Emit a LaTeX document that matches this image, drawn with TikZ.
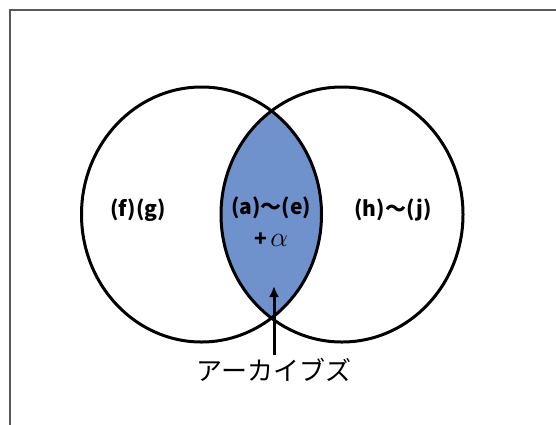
\documentclass[tikz,border=0pt]{standalone}
\usepackage{amsmath,amssymb}
\usepackage{fontspec}
\setmainfont{Noto Sans CJK JP}
\usetikzlibrary{arrows.meta, positioning}
\definecolor{lensblue}{RGB}{112,146,204}

\begin{document}
\begin{tikzpicture}[x=1pt, y=-1pt,
    setline/.style={line width=3pt},
    setlabel/.style={font=\fontsize{21}{24}\selectfont\bfseries},
    pointer/.style={line width=3pt, -{Latex[length=11pt,width=10pt]}}]

    \useasboundingbox (0,0) rectangle (556,424);

    % Frame (runs off the right and bottom edges)
    \draw[line width=1.4pt, black!65] (10,10) rectangle (570,440);

    % Shaded overlap of the two sets
    \begin{scope}
        \clip (201.5,214.5) ellipse [x radius=120pt, y radius=127.5pt];
        \fill[lensblue] (342,214.5) ellipse [x radius=121pt, y radius=127.5pt];
    \end{scope}

    % Left and right set outlines
    \draw[setline] (201.5,214.5) ellipse [x radius=120pt, y radius=127.5pt];
    \draw[setline] (342,214.5) ellipse [x radius=121pt, y radius=127.5pt];

    % Set labels
    \node[setlabel] (leftset) at (138,210) {(f)(g)};
    \node[setlabel] (common) at (271,208) {(a)〜(e)};
    \node[setlabel] (extra) at (271,240) {+\,\scalebox{1.35}{$\alpha$}};
    \node[setlabel] (rightset) at (393,210) {(h)〜(j)};

    % Pointer from the caption into the overlap
    \node[font=\fontsize{26}{30}\selectfont] (archives) at (274,370) {アーカイブズ};
    \coordinate (tip) at (274,286);
    \draw[pointer] (archives.north) -- (tip);

\end{tikzpicture}
\end{document}
